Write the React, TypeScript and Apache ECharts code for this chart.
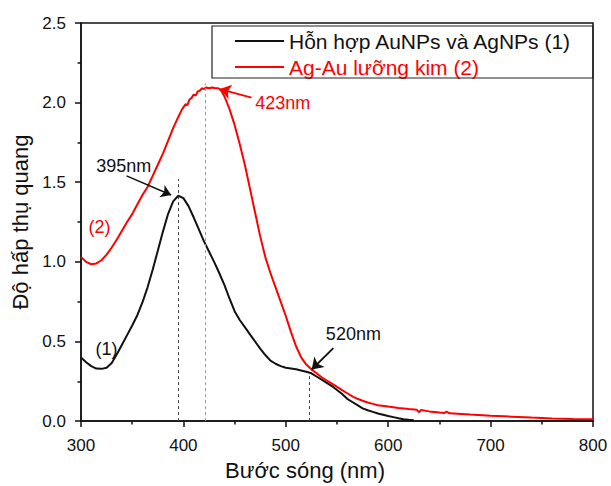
import React, { useEffect, useRef } from "react";
import * as echarts from "echarts";

// Series (1): Hỗn hợp AuNPs và AgNPs
const wl1 = [300,305,310,315,320,325,330,335,340,345,350,355,360,365,370,375,380,385,390,395,400,405,410,415,420,425,430,435,440,445,450,455,460,465,470,475,480,485,490,495,500,505,510,515,520,525,530,535,540,545,550,555,560,565,570,575,580,585,590,595,600,605,610,615,620,625];
const abs1 = [0.40,0.37,0.345,0.33,0.328,0.335,0.365,0.42,0.48,0.54,0.60,0.665,0.745,0.84,0.95,1.07,1.19,1.30,1.38,1.415,1.40,1.35,1.28,1.205,1.13,1.065,1.0,0.93,0.855,0.77,0.69,0.635,0.59,0.545,0.50,0.455,0.415,0.38,0.36,0.345,0.335,0.33,0.325,0.318,0.31,0.30,0.28,0.26,0.24,0.22,0.195,0.17,0.14,0.12,0.10,0.08,0.068,0.058,0.048,0.04,0.032,0.025,0.018,0.012,0.008,0.005];

// Series (2): Ag-Au lưỡng kim
const wl2 = [300,305,310,315,320,325,330,335,340,345,350,355,360,365,370,375,380,385,390,395,398,400,402,404,406,408,410,412,414,416,418,420,422,425,428,431,434,437,440,445,450,455,460,465,470,475,480,485,490,495,500,505,510,515,520,525,530,535,540,545,550,555,560,565,570,575,580,585,590,600,610,620,628,630,632,640,650,655,657,660,680,700,720,740,760,780,800];
const abs2 = [1.03,1.00,0.985,0.99,1.01,1.045,1.09,1.14,1.195,1.25,1.30,1.36,1.42,1.47,1.54,1.61,1.68,1.76,1.84,1.91,1.95,1.97,1.99,1.985,2.02,2.03,2.05,2.045,2.07,2.075,2.09,2.085,2.095,2.09,2.095,2.09,2.09,2.075,2.04,1.96,1.86,1.74,1.61,1.46,1.31,1.16,1.03,0.93,0.84,0.75,0.66,0.56,0.47,0.40,0.355,0.325,0.30,0.275,0.255,0.235,0.215,0.195,0.175,0.155,0.14,0.128,0.117,0.108,0.10,0.091,0.083,0.076,0.071,0.056,0.069,0.061,0.054,0.051,0.06,0.049,0.041,0.034,0.028,0.022,0.017,0.013,0.011];

const seriesNames = ["Hỗn hợp AuNPs và AgNPs (1)", "Ag-Au lưỡng kim (2)"];
const xTicks = { min: 300, max: 800, interval: 100 };
const yTicks = { min: 0, max: 2.5, interval: 0.5 };

const peak1 = 395;
const peak1Top = 1.52;
const peak2 = 421.8;
const peak2Top = 2.12;
const shoulder1 = 523;
const shoulder1Top = 0.3;

const FONT = "'Liberation Sans', Arial, sans-serif";
const BLACK = "#111111";
const RED = "#ff0000";

export default function App() {
  const ref = useRef<HTMLDivElement>(null);
  useEffect(() => {
    document.body.style.margin = "0";
    if (!ref.current) return;
    const chart = echarts.init(ref.current, null, { renderer: "svg" });
    const axisCommon = {
      axisLine: { show: true, onZero: false, lineStyle: { color: BLACK, width: 1.5 } },
      axisTick: { show: true, inside: false, length: 6, lineStyle: { color: BLACK, width: 1.5 } },
      minorTick: { show: true, splitNumber: 2, length: 3.5, lineStyle: { color: BLACK, width: 1.5 } },
      splitLine: { show: false },
    };
    const annot = (coord: number[], text: string, color: string) => ({
      coord,
      label: { show: true, position: "inside", formatter: text, color, fontSize: 18, fontFamily: FONT },
    });
    chart.setOption({
      animation: false,
      textStyle: { fontFamily: FONT },
      grid: { left: 81, right: 18, top: 23, bottom: 61, show: true, borderColor: BLACK, borderWidth: 1.5 },
      legend: {
        orient: "vertical",
        left: 235,
        top: 30,
        padding: 0,
        icon: "rect",
        itemWidth: 49,
        itemHeight: 2,
        itemGap: 4,
        textStyle: { fontSize: 21, lineHeight: 22, fontFamily: FONT },
        data: [
          { name: seriesNames[0], textStyle: { color: BLACK } },
          { name: seriesNames[1], textStyle: { color: RED } },
        ],
      },
      graphic: [
        {
          type: "rect",
          z: 10,
          shape: { x: 212, y: 26, width: 381, height: 52 },
          style: { fill: "none", stroke: "#222", lineWidth: 1.2 },
        },
      ],
      xAxis: {
        type: "value",
        ...xTicks,
        name: "Bước sóng (nm)",
        nameLocation: "middle",
        nameGap: 29,
        nameTextStyle: { fontSize: 22, color: BLACK, padding: [0, 64, 0, 0] },
        axisLabel: { fontSize: 17, color: BLACK, margin: 16 },
        ...axisCommon,
      },
      yAxis: {
        type: "value",
        ...yTicks,
        name: "Độ hấp thụ quang",
        nameLocation: "middle",
        nameGap: 50,
        nameTextStyle: { fontSize: 22, color: BLACK },
        axisLabel: { fontSize: 17, color: BLACK, margin: 15, formatter: (v: number) => v.toFixed(1) },
        ...axisCommon,
      },
      series: [
        {
          name: seriesNames[0],
          type: "line",
          symbol: "none",
          smooth: false,
          z: 3,
          lineStyle: { color: BLACK, width: 2 },
          itemStyle: { color: BLACK },
          data: wl1.map((x, i) => [x, abs1[i]]),
          markLine: {
            silent: true,
            animation: false,
            symbol: ["none", "none"],
            label: { show: false },
            data: [
              [
                { coord: [peak1, 0], lineStyle: { type: [3, 3], color: "#444", width: 1 } },
                { coord: [peak1, peak1Top] },
              ],
              [
                { coord: [shoulder1, 0], lineStyle: { type: [3, 3], color: "#444", width: 1 } },
                { coord: [shoulder1, shoulder1Top] },
              ],
              [
                { coord: [344.5, 1.54], lineStyle: { type: "solid", color: BLACK, width: 1.5 } },
                { coord: [388, 1.42], symbol: "arrow", symbolSize: 10 },
              ],
              [
                { coord: [546.4, 0.458], lineStyle: { type: "solid", color: BLACK, width: 1.8 } },
                { coord: [525.3, 0.324], symbol: "arrow", symbolSize: 11 },
              ],
            ],
          },
          markPoint: {
            silent: true,
            animation: false,
            symbol: "circle",
            symbolSize: 1,
            itemStyle: { color: "rgba(0,0,0,0)" },
            data: [
              annot([341.7, 1.6], "395nm", BLACK),
              annot([566, 0.55], "520nm", BLACK),
              annot([325, 0.45], "(1)", BLACK),
            ],
          },
        },
        {
          name: seriesNames[1],
          type: "line",
          symbol: "none",
          smooth: false,
          z: 4,
          lineStyle: { color: RED, width: 2 },
          itemStyle: { color: RED },
          data: wl2.map((x, i) => [x, abs2[i]]),
          markLine: {
            silent: true,
            animation: false,
            symbol: ["none", "none"],
            label: { show: false },
            data: [
              [
                { coord: [peak2, 0], lineStyle: { type: [3, 3], color: "#ff7070", width: 1 } },
                { coord: [peak2, peak2Top] },
              ],
              [
                { coord: [466.5, 2.032], lineStyle: { type: "solid", color: RED, width: 1.8 } },
                { coord: [435.6, 2.085], symbol: "arrow", symbolSize: 11 },
              ],
            ],
          },
          markPoint: {
            silent: true,
            animation: false,
            symbol: "circle",
            symbolSize: 1,
            itemStyle: { color: "rgba(0,0,0,0)" },
            data: [
              annot([497, 2.0], "423nm", RED),
              annot([318, 1.22], "(2)", RED),
            ],
          },
        },
      ],
    });
    return () => chart.dispose();
  }, []);
  return <div ref={ref} style={{ width: 611, height: 486 }} />;
}
